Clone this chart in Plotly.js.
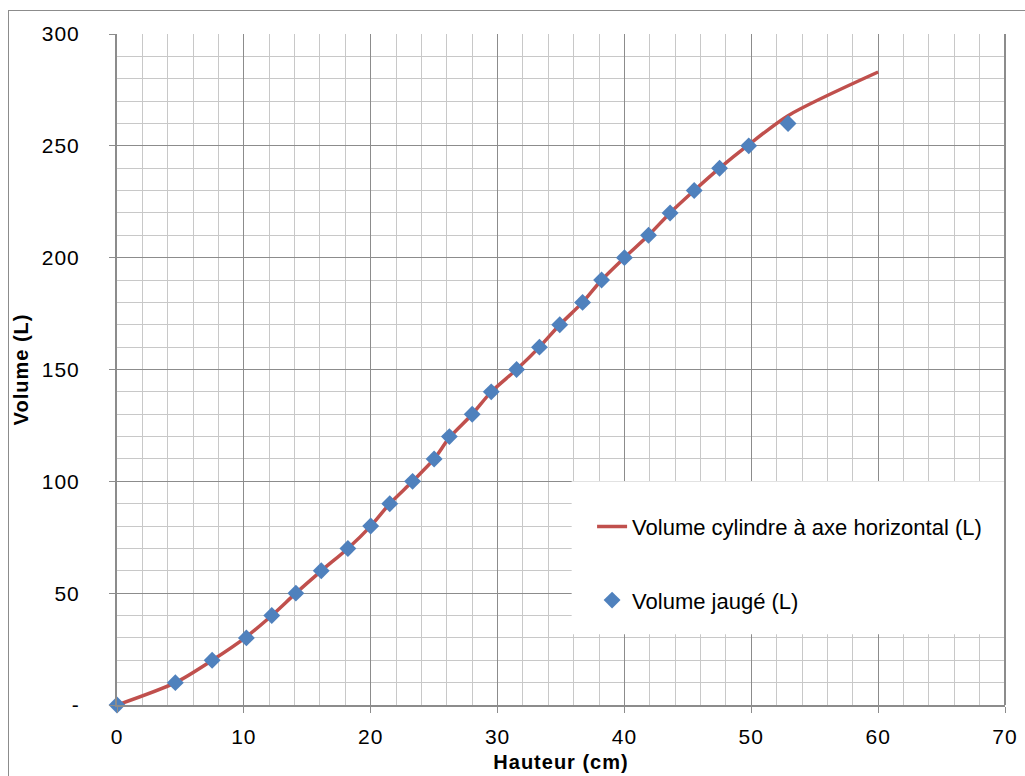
<!DOCTYPE html>
<html>
<head>
<meta charset="utf-8">
<script src="https://cdn.plot.ly/plotly-3.0.1.min.js"></script>
<style>
html,body{margin:0;padding:0;background:#fff;}
#wrap{position:relative;width:1025px;height:776px;}
#chart{width:1025px;height:776px;}
#frame{position:absolute;left:8px;top:10px;width:1030px;height:800px;border:1px solid #8c8c8c;pointer-events:none;}
#chart .xtitle, #chart .ytitle, #chart .xtick text, #chart .ytick text{letter-spacing:1px;}
</style>
</head>
<body>
<div id="wrap">
<div id="chart"></div>
<div id="frame"></div>
</div>
<script>
// Measured heights (cm) and gauged volumes (L)
const hauteurJauge = [0, 4.6, 7.5, 10.2, 12.2, 14.1, 16.1, 18.2, 20.0, 21.5, 23.3, 25.0, 26.2, 28.0, 29.5, 31.5, 33.3, 34.9, 36.7, 38.2, 40.0, 41.9, 43.6, 45.5, 47.5, 49.8, 52.9];
const volumeJauge  = [0, 10, 20, 30, 40, 50, 60, 70, 80, 90, 100, 110, 120, 130, 140, 150, 160, 170, 180, 190, 200, 210, 220, 230, 240, 250, 260];
// Theoretical curve (horizontal-axis cylinder)
const hauteurCyl = [0, 4.6, 7.5, 10.2, 12.2, 14.1, 16.1, 18.2, 20.0, 21.5, 23.3, 25.0, 26.2, 28.0, 29.5, 31.5, 33.3, 34.9, 36.7, 38.2, 40.0, 41.9, 43.6, 45.5, 47.5, 49.8, 52.9, 60];
const volumeCyl   = [0, 10, 20, 30.5, 40, 50, 60, 70, 80, 90, 100, 110, 119.5, 130, 140, 150, 160, 170, 180, 190, 200, 210, 220, 230, 240, 250.5, 263.5, 283];
const yTickVals = [0, 50, 100, 150, 200, 250, 300];
const yTickText = ['-', '50', '100', '150', '200', '250', '300'];
const xTickVals = [0, 10, 20, 30, 40, 50, 60, 70];

const traces = [
  {
    x: hauteurCyl, y: volumeCyl,
    type: 'scatter', mode: 'lines',
    name: 'Volume cylindre à axe horizontal (L)',
    line: {color: '#C0504D', width: 3.5, shape: 'spline', smoothing: 0.8},
    legendgroup: 'a'
  },
  {
    x: hauteurJauge, y: volumeJauge,
    type: 'scatter', mode: 'markers',
    name: 'Volume jaugé (L)',
    marker: {symbol: 'diamond', size: 13, color: '#4F81BD'},
    cliponaxis: false,
    legendgroup: 'b'
  }
];

const fam = '"Liberation Sans", Arial, sans-serif';
const tickFont = {family: fam, size: 21, color: '#000'};
const legFont = {family: fam, size: 22, color: '#000'};
const titleFont = {family: fam, size: 20, color: '#000'};

const layout = {
  width: 1025, height: 776,
  margin: {l: 117, r: 20, t: 34, b: 71, pad: 0},
  paper_bgcolor: '#fff', plot_bgcolor: '#fff',
  font: legFont,
  showlegend: true,
  legend: {
    x: 0.535, y: 0.297, xanchor: 'left', yanchor: 'top',
    bgcolor: 'rgba(0,0,0,0)', borderwidth: 0,
    font: legFont, traceorder: 'grouped', tracegroupgap: 42
  },
  xaxis: {
    range: [0, 70], tickvals: xTickVals, ticktext: xTickVals.map(String),
    tickfont: tickFont,
    showgrid: true, gridcolor: '#8c8c8c', gridwidth: 1,
    minor: {dtick: 2, showgrid: true, gridcolor: '#c8c8c8', gridwidth: 1, ticks: ''},
    showline: true, linecolor: '#8c8c8c', linewidth: 2,
    ticks: 'outside', ticklen: 6, tickcolor: '#8c8c8c',
    ticklabelstandoff: 6,
    zeroline: false, fixedrange: true,
    title: {text: '<b>Hauteur (cm)</b>', font: titleFont, standoff: 8}
  },
  yaxis: {
    range: [0, 300], tickvals: yTickVals, ticktext: yTickText,
    tickfont: tickFont,
    showgrid: true, gridcolor: '#8c8c8c', gridwidth: 1,
    minor: {dtick: 10, showgrid: true, gridcolor: '#c8c8c8', gridwidth: 1, ticks: ''},
    showline: true, linecolor: '#8c8c8c', linewidth: 2,
    ticks: 'outside', ticklen: 6, tickcolor: '#8c8c8c',
    ticklabelstandoff: 25,
    zeroline: false, fixedrange: true,
    title: {text: '<b>Volume (L)</b>', font: titleFont, standoff: 11}
  },
  shapes: [
    {type: 'rect', xref: 'paper', yref: 'paper', x0: 0.512, x1: 1, y0: 0.1055, y1: 0.3333,
     fillcolor: '#fff', line: {width: 0}, layer: 'above'},
    {type: 'line', xref: 'paper', yref: 'paper', x0: 1, x1: 1, y0: 0, y1: 1,
     line: {color: '#8c8c8c', width: 2}, layer: 'above'}
  ]
};

Plotly.newPlot('chart', traces, layout, {staticPlot: true, displayModeBar: false});
</script>
</body>
</html>
